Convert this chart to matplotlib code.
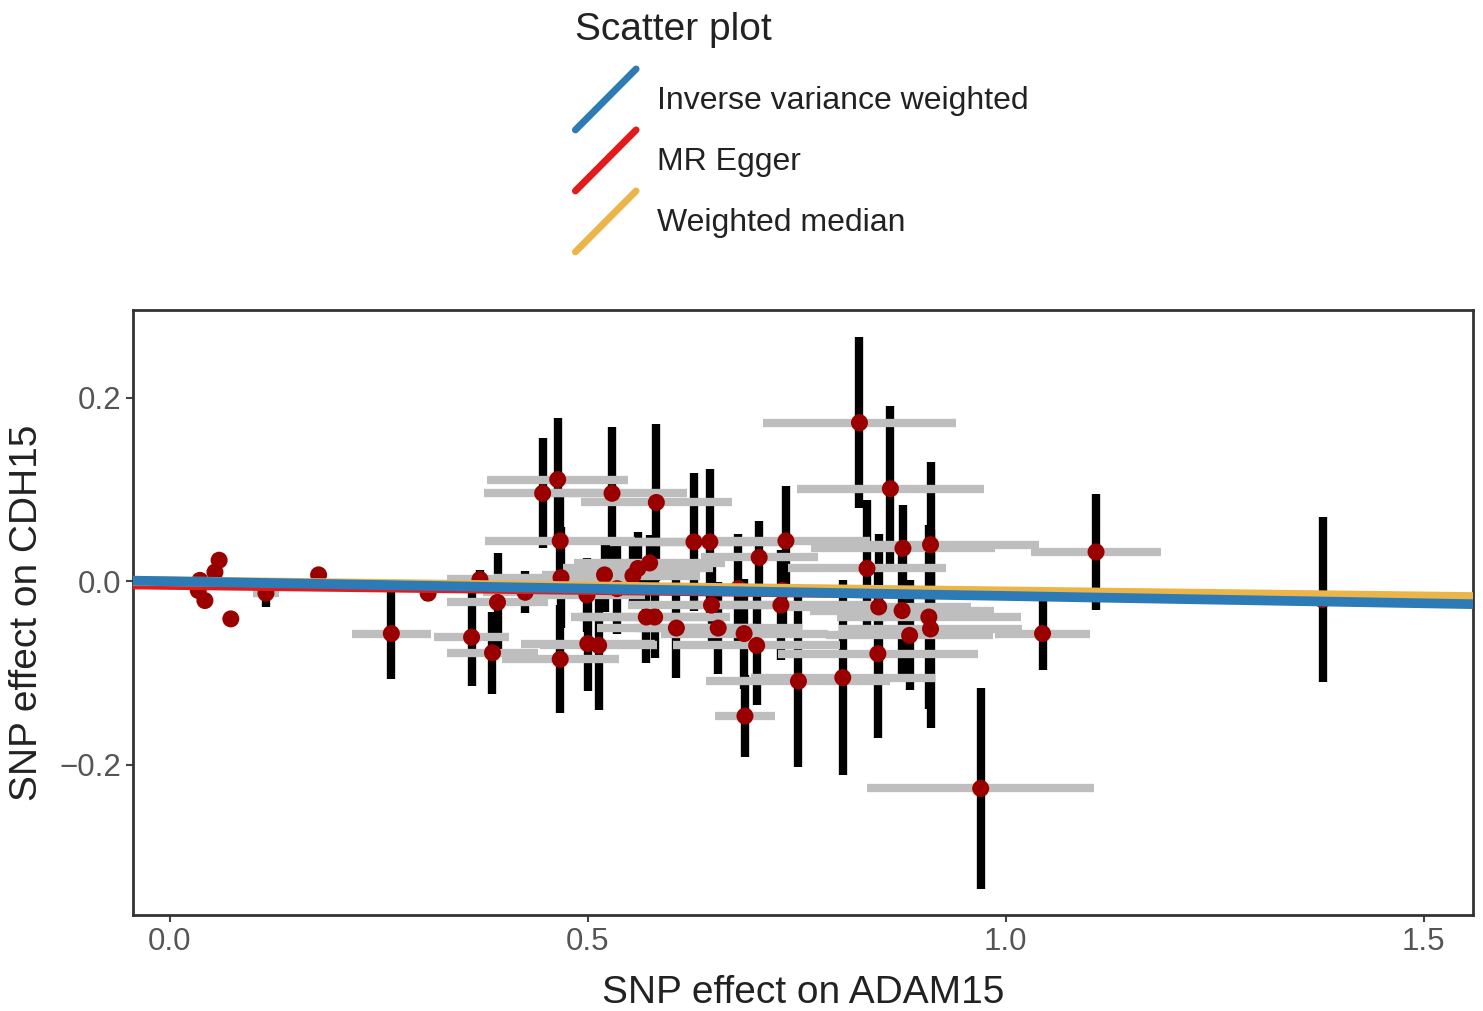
import matplotlib
matplotlib.use('Agg')
import matplotlib.pyplot as plt
from matplotlib.lines import Line2D
from matplotlib.legend_handler import HandlerBase

plt.rcParams['font.family'] = ['Liberation Sans', 'DejaVu Sans']

# SNP effects on exposure (ADAM15) and outcome (CDH15) with standard errors
snp_x = [0.036, 0.034, 0.042, 0.054, 0.059, 0.073, 0.115, 0.178, 0.265, 0.309,
         0.361, 0.371, 0.386, 0.392, 0.425, 0.446, 0.464, 0.467, 0.468, 0.467,
         0.499, 0.500, 0.513, 0.520, 0.529, 0.554, 0.560, 0.574, 0.570, 0.580,
         0.582, 0.606, 0.627, 0.646, 0.648, 0.656, 0.687, 0.702, 0.688, 0.705,
         0.731, 0.737, 0.752, 0.805, 0.825, 0.834, 0.847, 0.848, 0.862, 0.876,
         0.877, 0.885, 0.908, 0.910, 0.910, 0.970, 1.044, 1.108, 1.379,
         0.535, 0.733, 0.680]
snp_y = [0.001, -0.010, -0.021, 0.010, 0.023, -0.041, -0.013, 0.007, -0.057, -0.013,
         -0.061, 0.002, -0.078, -0.023, -0.012, 0.096, 0.111, 0.044, 0.004, -0.085,
         -0.015, -0.068, -0.070, 0.007, 0.096, 0.006, 0.014, 0.020, -0.039, -0.039,
         0.086, -0.051, 0.043, 0.043, -0.026, -0.051, -0.057, -0.070, -0.147, 0.026,
         -0.026, 0.044, -0.109, -0.105, 0.173, 0.014, -0.079, -0.028, 0.101, -0.032,
         0.036, -0.059, -0.039, -0.052, 0.040, -0.226, -0.057, 0.032, -0.020,
         -0.008, -0.010, -0.008]
se_x = [0.005, 0.005, 0.005, 0.005, 0.005, 0.005, 0.016, 0.008, 0.047, 0.010,
        0.045, 0.040, 0.055, 0.060, 0.050, 0.070, 0.084, 0.090, 0.080, 0.070,
        0.070, 0.080, 0.070, 0.075, 0.090, 0.080, 0.090, 0.090, 0.090, 0.090,
        0.090, 0.095, 0.100, 0.100, 0.100, 0.100, 0.100, 0.100, 0.036, 0.070,
        0.110, 0.100, 0.110, 0.110, 0.115, 0.094, 0.120, 0.110, 0.112, 0.110,
        0.110, 0.100, 0.110, 0.110, 0.130, 0.136, 0.057, 0.078, 0.020,
        0.060, 0.050, 0.050]
se_y = [0.004, 0.004, 0.004, 0.005, 0.005, 0.005, 0.015, 0.006, 0.050, 0.008,
        0.053, 0.010, 0.045, 0.054, 0.023, 0.060, 0.067, 0.050, 0.055, 0.059,
        0.040, 0.052, 0.070, 0.040, 0.072, 0.035, 0.040, 0.030, 0.050, 0.045,
        0.086, 0.055, 0.075, 0.080, 0.045, 0.050, 0.060, 0.065, 0.045, 0.040,
        0.060, 0.060, 0.094, 0.106, 0.093, 0.075, 0.092, 0.080, 0.090, 0.070,
        0.047, 0.060, 0.100, 0.108, 0.090, 0.110, 0.040, 0.063, 0.090,
        0.050, 0.040, 0.060]

# MR method fits (intercept, slope)
methods = ['Inverse variance weighted', 'MR Egger', 'Weighted median']
intercepts = [0.0, -0.004, 0.0]
slopes = [-0.016, -0.011, -0.011]
colors = ['#2C7BB6', '#E31A1C', '#EBB54A']

fig = plt.figure(figsize=(14.83, 10.11), dpi=100)
ax = fig.add_axes([0.0897, 0.095, 0.9036, 0.5984])

ax.errorbar(snp_x, snp_y, yerr=se_y, fmt='none', ecolor='black', elinewidth=6,
            capsize=0, zorder=1)
ax.errorbar(snp_x, snp_y, xerr=se_x, fmt='none', ecolor='#BEBEBE', elinewidth=6,
            capsize=0, zorder=2)
ax.scatter(snp_x, snp_y, s=150, color='#9B0000', edgecolors='none', zorder=3)

# drawing order: Egger at the bottom, then weighted median, IVW on top
draw_order = [1, 2, 0]
for k, i in enumerate(draw_order):
    ax.axline((0, intercepts[i]), slope=slopes[i], color=colors[i], lw=7,
              zorder=4 + k, solid_capstyle='butt')
handles = [Line2D([], [], color=colors[i], lw=5) for i in range(3)]

ax.set_xlim(-0.044, 1.559)
ax.set_ylim(-0.364, 0.296)
ax.set_xticks([0.0, 0.5, 1.0, 1.5])
ax.set_xticklabels(['0.0', '0.5', '1.0', '1.5'])
ax.set_yticks([-0.2, 0.0, 0.2])
ax.set_yticklabels(['\u22120.2', '0.0', '0.2'])
ax.tick_params(labelsize=22.5, labelcolor='#555555', color='#444444',
               length=5, width=1.5)
for sp in ax.spines.values():
    sp.set_color('#333333')
    sp.set_linewidth(2)

ax.set_xlabel('SNP effect on ADAM15', fontsize=28, color='#222222', labelpad=13)
ax.set_ylabel('SNP effect on CDH15', fontsize=28, color='#222222', labelpad=10)


class DiagHandler(HandlerBase):
    def create_artists(self, legend, orig_handle, xdescent, ydescent, width,
                       height, fontsize, trans):
        ln = Line2D([-xdescent, -xdescent + width],
                    [-ydescent, -ydescent + height],
                    color=orig_handle.get_color(),
                    lw=orig_handle.get_linewidth(),
                    solid_capstyle='round', transform=trans)
        return [ln]


leg = fig.legend(handles, methods, title='Scatter plot', loc='upper left',
                 bbox_to_anchor=(0.388, 0.988), frameon=False, fontsize=23,
                 title_fontsize=28, handlelength=1.9, handleheight=2.56,
                 handletextpad=0.65, labelspacing=0.0, alignment='left',
                 borderpad=0, borderaxespad=0,
                 handler_map={Line2D: DiagHandler()})
leg._legend_box.sep = 15
for t in leg.get_texts():
    t.set_color('#222222')
leg.get_title().set_color('#222222')

fig.savefig('out.png', dpi=100)
